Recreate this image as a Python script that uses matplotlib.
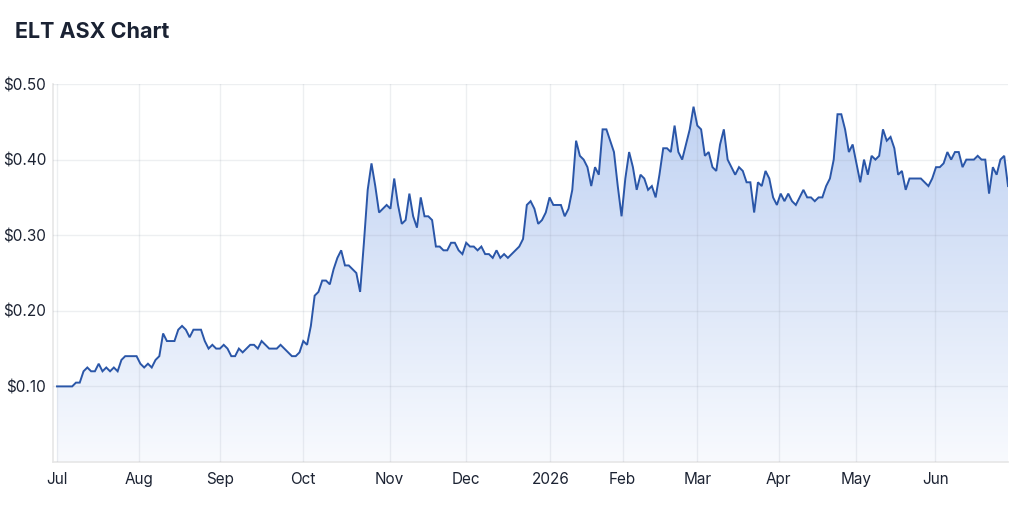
import numpy as np
import matplotlib
matplotlib.use("Agg")
import matplotlib.pyplot as plt
from matplotlib.colors import LinearSegmentedColormap
from matplotlib.patches import Polygon

# ---- data (closing prices, AUD) ----
jul = [0.10, 0.10, 0.10, 0.10, 0.10, 0.105, 0.105, 0.12, 0.125, 0.12, 0.12, 0.13, 0.12,
       0.125, 0.12, 0.125, 0.12, 0.135, 0.14, 0.14, 0.14, 0.14]
aug = [0.13, 0.125, 0.13, 0.125, 0.135, 0.14, 0.17, 0.16, 0.16, 0.16, 0.175, 0.18, 0.175,
       0.165, 0.175, 0.175, 0.175, 0.16, 0.15, 0.155, 0.15]
sep = [0.15, 0.155, 0.15, 0.14, 0.14, 0.15, 0.145, 0.15, 0.155, 0.155, 0.15, 0.16, 0.155,
       0.15, 0.15, 0.15, 0.155, 0.15, 0.145, 0.14, 0.14, 0.145]
oct_ = [0.16, 0.155, 0.18, 0.22, 0.225, 0.24, 0.24, 0.235, 0.255, 0.27, 0.28, 0.26, 0.26,
        0.255, 0.25, 0.225, 0.29, 0.36, 0.395, 0.365, 0.33, 0.335, 0.34]
nov = [0.335, 0.375, 0.34, 0.315, 0.32, 0.355, 0.325, 0.31, 0.35, 0.325, 0.325, 0.32, 0.285,
       0.285, 0.28, 0.28, 0.29, 0.29, 0.28, 0.275]
dec = [0.29, 0.285, 0.285, 0.28, 0.285, 0.275, 0.275, 0.27, 0.28, 0.27, 0.275, 0.27, 0.275,
       0.28, 0.285, 0.295, 0.34, 0.345, 0.335, 0.315, 0.32, 0.33]
jan = [0.35, 0.34, 0.34, 0.34, 0.325, 0.335, 0.36, 0.425, 0.405, 0.40, 0.39, 0.365, 0.39,
       0.38, 0.44, 0.44, 0.425, 0.41, 0.365]
feb = [0.325, 0.375, 0.41, 0.39, 0.36, 0.38, 0.375, 0.36, 0.365, 0.35, 0.38, 0.415, 0.415,
       0.41, 0.445, 0.41, 0.40, 0.42, 0.44, 0.47]
mar = [0.445, 0.44, 0.405, 0.41, 0.39, 0.385, 0.42, 0.44, 0.40, 0.39, 0.38, 0.39, 0.385,
       0.37, 0.37, 0.33, 0.37, 0.365, 0.385, 0.375, 0.35, 0.34]
apr = [0.355, 0.345, 0.355, 0.345, 0.34, 0.35, 0.36, 0.35, 0.35, 0.345, 0.35, 0.35, 0.365,
       0.375, 0.40, 0.46, 0.46, 0.44, 0.41, 0.42]
may = [0.395, 0.37, 0.40, 0.38, 0.405, 0.40, 0.405, 0.44, 0.425, 0.43, 0.415, 0.38, 0.385,
       0.36, 0.375, 0.375, 0.375, 0.375, 0.37, 0.365, 0.375]
jun = [0.39, 0.39, 0.395, 0.41, 0.40, 0.41, 0.41, 0.39, 0.40, 0.40, 0.40, 0.405, 0.40, 0.40,
       0.355, 0.39, 0.38, 0.40, 0.405, 0.365]

month_labels = ["Jul", "Aug", "Sep", "Oct", "Nov", "Dec", "2026", "Feb", "Mar", "Apr", "May", "Jun"]
y_ticks = [0.10, 0.20, 0.30, 0.40, 0.50]
title = "ELT ASX Chart"

# ---- layout ----
month_tick_pos = [0, 21.6, 43.0, 65.0, 87.8, 108.0, 130.2, 149.3, 169.0, 190.5, 211.0, 231.8]

prices = np.array(jul + aug + sep + oct_ + nov + dec + jan + feb + mar + apr + may + jun)
x = np.arange(len(prices))

plt.rcParams['font.family'] = ['Inter', 'DejaVu Sans']

fig = plt.figure(figsize=(10.24, 5.15), dpi=100)
ax = fig.add_axes([53/1024, 1 - 462/515, (1008 - 53)/1024, (462 - 84)/515])

ax.set_xlim(-1.06, len(prices) - 1)
ax.set_ylim(0, 0.5)

# gradient fill under the line
cmap = LinearSegmentedColormap.from_list("g", ["#f8fafe", "#dce6f8", "#c1d3f3"])
grad = np.linspace(0, 1, 256).reshape(-1, 1)
im = ax.imshow(grad, aspect="auto", cmap=cmap, origin="lower",
               extent=[x[0], x[-1], 0, 0.47], zorder=1, vmin=0, vmax=1)
verts = np.column_stack([np.concatenate([[x[0]], x, [x[-1]]]),
                         np.concatenate([[0], prices, [0]])])
clip = Polygon(verts, closed=True, transform=ax.transData, facecolor="none", edgecolor="none")
ax.add_patch(clip)
im.set_clip_path(clip)

ax.plot(x, prices, color="#2a56a8", lw=1.4, zorder=3, solid_joinstyle="miter")

# grid
ax.set_yticks(y_ticks)
ax.set_yticklabels([f"${v:.2f}" for v in y_ticks])
ax.set_xticks(month_tick_pos)
ax.set_xticklabels(month_labels)
ax.grid(True, color="#8c95a6", alpha=0.15, lw=1, zorder=2)
ax.set_axisbelow(False)

for side in ["top", "right"]:
    ax.spines[side].set_visible(False)
for side in ["left", "bottom"]:
    ax.spines[side].set_color("#e6e6e6")
    ax.spines[side].set_linewidth(1.2)
    ax.spines[side].set_zorder(2)

ax.tick_params(axis="both", length=0, labelsize=11, colors="#1c2333")
ax.tick_params(axis="x", pad=7)
ax.tick_params(axis="y", pad=5)

fig.text(15/1024, 1 - 32/515, title, fontsize=15.5, fontweight="bold",
         color="#1a2233", ha="left", va="center")

fig.savefig("out.png", dpi=100, facecolor="white")
